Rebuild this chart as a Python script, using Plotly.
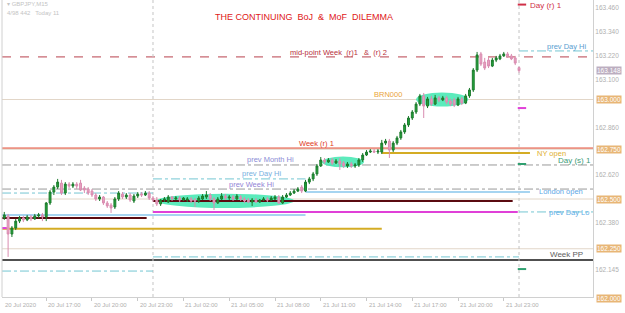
import pandas as pd
import plotly.graph_objects as go

# ---------------- data (GBPJPY M15, 20 Jul 14:00 -> 22 Jul 00:00) ----------------
open_ = [162.410,
 162.405,162.415,162.324,162.354,162.389,162.405,162.395,162.410,162.400,162.415,
 162.420,162.410,162.480,162.535,162.560,162.580,162.530,162.575,162.565,162.575,
 162.580,162.555,162.550,162.540,162.520,162.500,162.510,162.480,162.470,162.460,
 162.500,162.525,162.510,162.520,162.490,162.515,162.525,162.520,162.530,162.505,
 162.495,162.475,162.495,162.485,162.510,162.500,162.505,162.495,
 162.495,162.500,162.495,162.490,162.500,162.510,162.520,162.500,162.480,162.500,162.515,
 162.505,162.510,162.500,162.510,162.500,162.495,162.485,162.495,162.485,162.495,
 162.500,162.495,162.500,162.510,162.480,162.510,162.520,162.530,162.540,162.560,
 162.540,162.585,162.601,162.626,162.666,162.696,162.686,162.696,162.681,162.691,
 162.681,162.666,162.676,162.666,162.671,162.696,162.721,162.736,162.741,162.736,
 162.736,162.781,162.791,162.746,162.781,162.807,162.837,162.872,162.907,162.937,
 162.977,163.018,162.967,163.003,162.977,163.008,162.998,163.008,162.992,162.998,
 162.972,163.003,162.982,163.018,163.048,163.148,163.229,163.188,163.198,163.168,
 163.198,163.204,163.219,163.229,163.219,163.209,163.160]
high = [162.425,
 162.435,162.425,162.364,162.400,162.415,162.415,162.420,162.420,162.425,162.430,
 162.430,162.485,162.545,162.570,162.601,162.596,162.585,162.585,162.585,162.585,
 162.596,162.565,162.560,162.550,162.530,162.520,162.515,162.490,162.480,162.510,
 162.540,162.535,162.530,162.530,162.525,162.535,162.535,162.540,162.540,162.515,
 162.510,162.500,162.510,162.520,162.515,162.515,162.515,162.510,
 162.510,162.510,162.505,162.515,162.525,162.540,162.530,162.510,162.510,162.530,162.525,
 162.520,162.520,162.525,162.520,162.510,162.505,162.505,162.505,162.500,162.510,
 162.510,162.515,162.520,162.520,162.520,162.530,162.540,162.550,162.560,162.570,
 162.596,162.611,162.636,162.676,162.711,162.706,162.706,162.706,162.701,162.706,
 162.691,162.686,162.686,162.681,162.706,162.731,162.746,162.751,162.751,162.751,
 162.797,162.802,162.802,162.791,162.817,162.847,162.882,162.917,162.947,162.987,
 163.028,163.033,163.013,163.018,163.023,163.018,163.018,163.018,163.003,163.008,
 163.013,163.013,163.028,163.058,163.158,163.239,163.239,163.209,163.214,163.209,
 163.219,163.229,163.239,163.239,163.229,163.219,163.165]
low = [162.400,
 162.395,162.209,162.309,162.344,162.379,162.384,162.389,162.389,162.395,162.405,
 162.389,162.389,162.470,162.520,162.550,162.520,162.520,162.555,162.555,162.550,
 162.540,162.530,162.520,162.510,162.490,162.490,162.470,162.455,162.430,162.450,
 162.490,162.500,162.500,162.485,162.480,162.505,162.510,162.515,162.495,162.485,
 162.465,162.465,162.485,162.480,162.490,162.495,162.485,162.490,
 162.485,162.480,162.460,162.480,162.495,162.500,162.490,162.445,162.475,162.495,162.495,
 162.495,162.490,162.495,162.490,162.480,162.480,162.465,162.480,162.480,162.490,
 162.485,162.490,162.495,162.475,162.475,162.505,162.515,162.525,162.535,162.530,
 162.535,162.575,162.590,162.616,162.661,162.676,162.681,162.671,162.676,162.646,
 162.656,162.656,162.656,162.656,162.661,162.686,162.716,162.731,162.731,162.726,
 162.726,162.771,162.706,162.736,162.771,162.797,162.827,162.862,162.897,162.927,
 162.967,162.907,162.957,162.967,162.972,162.987,162.992,162.977,162.967,162.962,
 162.967,162.972,162.977,163.008,163.038,163.138,163.168,163.148,163.158,163.163,
 163.188,163.198,163.214,163.209,163.198,163.173,163.135]
close = [162.415,
 162.420,162.324,162.354,162.389,162.405,162.395,162.410,162.400,162.415,162.420,
 162.410,162.480,162.535,162.560,162.585,162.530,162.575,162.565,162.575,162.565,
 162.545,162.545,162.530,162.520,162.500,162.510,162.480,162.465,162.455,162.500,
 162.530,162.510,162.520,162.495,162.515,162.525,162.520,162.530,162.505,162.495,
 162.475,162.495,162.500,162.510,162.500,162.505,162.495,162.505,
 162.500,162.490,162.490,162.505,162.515,162.520,162.500,162.480,162.500,162.515,162.505,
 162.510,162.500,162.515,162.500,162.490,162.485,162.495,162.485,162.495,162.500,
 162.495,162.505,162.510,162.480,162.510,162.520,162.530,162.540,162.550,162.540,
 162.585,162.601,162.626,162.666,162.696,162.686,162.696,162.681,162.691,162.676,
 162.666,162.676,162.666,162.671,162.696,162.721,162.736,162.741,162.736,162.741,
 162.781,162.791,162.746,162.781,162.807,162.837,162.872,162.907,162.937,162.977,
 163.018,162.967,163.003,162.977,163.008,162.998,163.008,162.987,162.977,162.972,
 163.003,162.982,163.018,163.048,163.148,163.224,163.178,163.158,163.168,163.198,
 163.209,163.219,163.229,163.219,163.204,163.183,163.145]
times = pd.date_range("2020-07-20 14:00", periods=len(close), freq="15min")

# x-axis tick labels
xtick_times = ["2020-07-20 14:00", "2020-07-20 17:00", "2020-07-20 20:00", "2020-07-20 23:00",
               "2020-07-21 02:00", "2020-07-21 05:00", "2020-07-21 08:00", "2020-07-21 11:00",
               "2020-07-21 14:00", "2020-07-21 17:00", "2020-07-21 20:00", "2020-07-21 23:00"]
xtick_text = ["20 Jul 2020", "20 Jul 17:00", "20 Jul 20:00", "20 Jul 23:00", "21 Jul 02:00",
              "21 Jul 05:00", "21 Jul 08:00", "21 Jul 11:00", "21 Jul 14:00", "21 Jul 17:00",
              "21 Jul 20:00", "21 Jul 23:00"]
ytick_vals = [163.460, 163.340, 163.220, 163.100, 162.860, 162.620, 162.380, 162.145]
ytick_text = ["163.460", "163.340", "163.220", "163.100", "162.860", "162.620", "162.380",
              "162.145"]

# indicator levels
level_mid_week = 163.214
level_week_r1 = 162.756
level_week_pp = 162.194
level_prev_month_hi = 162.671
level_prev_week_hi = 162.550
round_levels = [163.000, 162.750, 162.500, 162.250, 162.000]
day_r1_new = 163.477
day_s1_new = 162.676
day_s2_new = 162.148
day_mag_new = 162.957
day_mag_21 = 162.435
day_mag_20 = 162.354
day_pp_21 = 162.490
day_pp_20 = 162.405
prev_day_hi = [162.530, 162.601, 163.244]   # for 20, 21, 22 Jul
prev_day_lo = [162.138, 162.209, 162.435]
ny_open = [162.350, 162.731]
london_open = [162.420, 162.535]
current_price = 163.148

# ---------------- figure ----------------
X0, X1 = "2020-07-20 14:06", "2020-07-22 04:51"
D21, D22 = "2020-07-21 00:00", "2020-07-22 00:00"
YMIN, YMAX = 162.0076, 163.500
fig = go.Figure()

shapes = []
def seg(y, x0, x1, color, width=1, dash="solid", xref="x"):
    shapes.append(dict(type="line", xref=xref, yref="y", x0=x0, x1=x1, y0=y, y1=y,
                       line=dict(color=color, width=width, dash=dash), layer="below"))

# aquamarine highlight blobs
blobs = [("2020-07-21 00:15", "2020-07-21 09:15", 162.455, 162.527),
         ("2020-07-21 11:05", "2020-07-21 13:50", 162.659, 162.713),
         ("2020-07-21 17:15", "2020-07-21 20:40", 162.965, 163.035)]
for bx0, bx1, by0, by1 in blobs:
    shapes.append(dict(type="circle", xref="x", yref="y", x0=bx0, x1=bx1, y0=by0, y1=by1,
                       fillcolor="rgba(64,232,176,0.85)", line=dict(width=0), layer="below"))

# round number lines
for r in round_levels:
    seg(r, 0, 1, "#e2d6c8", 1, xref="paper")
seg(level_mid_week, 0, 1, "#b8404c", 1, "dash", xref="paper")
seg(level_week_r1, 0, 1, "#e0442c", 1, xref="paper")
seg(level_prev_month_hi, 0, 1, "#9a9a9a", 1, "dashdot", xref="paper")
seg(level_prev_week_hi, 0, 1, "#9a9a9a", 1, "dashdot", xref="paper")
seg(level_week_pp, 0, 1, "#505050", 2, xref="paper")

# previous day hi / lo (dash-dot light teal)
seg(prev_day_hi[0], X0, D21, "#74c6d2", 1, "dashdot")
seg(prev_day_hi[1], D21, "2020-07-21 10:00", "#74c6d2", 1, "dashdot")
seg(prev_day_hi[2], D22, X1, "#74c6d2", 1, "dashdot")
seg(prev_day_lo[0], X0, D21, "#74c6d2", 1, "dashdot")
seg(prev_day_lo[1], D21, D22, "#74c6d2", 1, "dashdot")
seg(prev_day_lo[2], D22, X1, "#74c6d2", 1, "dashdot")

# session lines
seg(ny_open[0], X0, "2020-07-21 15:00", "#d4ac24", 2)
seg(ny_open[1], "2020-07-21 15:00", "2020-07-22 00:43", "#d4ac24", 2)
seg(london_open[0], X0, "2020-07-21 10:00", "#a6d4f0", 2)
seg(london_open[1], "2020-07-21 10:00", "2020-07-22 00:43", "#a6d4f0", 2)

# day pivots
seg(day_pp_20, X0, "2020-07-20 23:35", "#5a0a10", 2)
seg(day_pp_21, D21, "2020-07-21 23:35", "#5a0a10", 2)
seg(day_mag_20, X0, "2020-07-20 14:25", "#e040d8", 2)
seg(day_mag_21, D21, "2020-07-21 23:55", "#e040d8", 2)
seg(day_mag_new, "2020-07-21 23:55", "2020-07-22 00:28", "#e040d8", 2)
seg(day_r1_new, "2020-07-21 23:55", "2020-07-22 00:28", "#d03048", 2)
seg(day_s1_new, "2020-07-21 23:55", "2020-07-22 00:28", "#30a070", 2)
seg(day_s2_new, "2020-07-21 23:55", "2020-07-22 00:28", "#30a070", 2)

# day separators
for d in [D21, D22]:
    shapes.append(dict(type="line", xref="x", yref="paper", x0=d, x1=d, y0=0, y1=1,
                       line=dict(color="#c4c4c4", width=1, dash="dot"), layer="below"))
# left frame
shapes.append(dict(type="line", xref="paper", yref="paper", x0=0, x1=0, y0=0, y1=1,
                   line=dict(color="#d0d0d0", width=1)))

fig.add_trace(go.Candlestick(
    x=times, open=open_, high=high, low=low, close=close,
    increasing=dict(fillcolor="#22a63c", line=dict(color="#1c7a2c", width=1)),
    decreasing=dict(fillcolor="#eaa2c2", line=dict(color="#d98cb0", width=1)),
    whiskerwidth=0, showlegend=False))

F = "Liberation Sans, Arial, sans-serif"
ann = []
def lab(text, x, y, color, size=7.5):
    ann.append(dict(text=text, x=x, y=y, xref="x", yref="y", xanchor="left", yanchor="middle",
                    showarrow=False, font=dict(family=F, size=size, color=color)))

lab("Day (r) 1", "2020-07-22 00:36", 163.472, "#d03048", 8)
lab("mid-point Week  (r)1   &  (r) 2", "2020-07-21 08:51", 163.238, "#b8303c")
lab("prev Day Hi", "2020-07-22 01:42", 163.268, "#5a9ed0")
lab("BRN000", "2020-07-21 14:21", 163.023, "#eaa43a")
lab("Week (r) 1", "2020-07-21 09:27", 162.781, "#e03a24")
lab("NY open", "2020-07-22 01:03", 162.731, "#e0b030")
lab("Day (s) 1", "2020-07-22 02:26", 162.696, "#3c9c78", 8)
lab("prev Month Hi", "2020-07-21 06:02", 162.701, "#8c8cd6")
lab("prev Day Hi", "2020-07-21 05:42", 162.626, "#78b0e0")
lab("prev Week Hi", "2020-07-21 04:51", 162.575, "#9484d6")
lab("London open", "2020-07-22 01:11", 162.538, "#5ea8e6")
lab("prev Day Lo", "2020-07-22 01:50", 162.430, "#5eaee6")
lab("Week PP", "2020-07-22 01:54", 162.222, "#606060", 8)

# title and info text
ann.append(dict(text="THE CONTINUING  BoJ  &  MoF  DILEMMA", x=0.511, y=0.943, xref="paper",
                yref="paper", xanchor="center", yanchor="middle", showarrow=False,
                font=dict(family=F, size=9, color="#e01818")))
ann.append(dict(text="▾ GBPJPY,M15", x=0.005, y=0.985, xref="paper", yref="paper",
                xanchor="left", yanchor="middle", showarrow=False,
                font=dict(family=F, size=6, color="#c4c4c4")))
ann.append(dict(text="4/98 442   Today 11", x=0.005, y=0.955, xref="paper", yref="paper",
                xanchor="left", yanchor="middle", showarrow=False,
                font=dict(family=F, size=6, color="#c4c4c4")))

# x labels (left aligned at tick)
for i, (t, s) in enumerate(zip(xtick_times, xtick_text)):
    if i == 0:
        ann.append(dict(text=s, x=0, y=0, xref="paper", yref="paper", xanchor="left",
                        yanchor="top", yshift=-3, xshift=1, showarrow=False,
                        font=dict(family=F, size=6, color="#b0b0b0")))
    else:
        ann.append(dict(text=s, x=t, y=0, xref="x", yref="paper", xanchor="left",
                        yanchor="top", yshift=-3, showarrow=False,
                        font=dict(family=F, size=6, color="#b0b0b0")))

# price boxes on the axis
for r in round_levels:
    ypos = (r - YMIN) / (YMAX - YMIN)
    ann.append(dict(text=f"{r:.3f}", x=1, y=max(ypos, 0), xref="paper", yref="paper",
                    xanchor="left", yanchor="middle", xshift=3, yshift=(-1 if ypos < 0 else 0),
                    showarrow=False, bgcolor="#e8b676", borderpad=0,
                    font=dict(family=F, size=6.5, color="white")))
ann.append(dict(text=f"{current_price:.3f}", x=1, y=current_price, xref="paper", yref="y",
                xanchor="left", yanchor="middle", xshift=3, showarrow=False, bgcolor="#bcaec0",
                borderpad=0, font=dict(family=F, size=6.5, color="white")))

fig.update_layout(
    width=625, height=313, margin=dict(l=2, r=32, t=0, b=16),
    paper_bgcolor="white", plot_bgcolor="white",
    shapes=shapes, annotations=ann, showlegend=False,
    xaxis=dict(type="date", range=[X0, X1], rangeslider=dict(visible=False), showgrid=False,
               zeroline=False, showline=True, linecolor="#d0d0d0", linewidth=1,
               tickvals=xtick_times, showticklabels=False, ticks="outside", ticklen=3,
               tickcolor="#c8c8c8"),
    yaxis=dict(range=[YMIN, YMAX], side="right", showgrid=False, zeroline=False,
               showline=True, linecolor="#d0d0d0", linewidth=1, tickvals=ytick_vals,
               ticktext=ytick_text, ticks="", tickfont=dict(family=F, size=6.5, color="#b0b0b0")),
)
fig.write_html("out.html")
